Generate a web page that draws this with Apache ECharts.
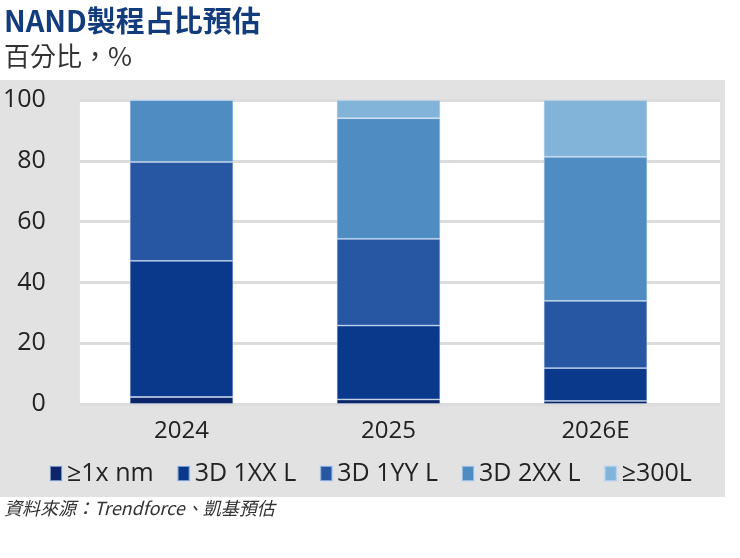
<!DOCTYPE html>
<html><head><meta charset="utf-8">
<script src="https://cdn.jsdelivr.net/npm/echarts@6/dist/echarts.min.js"></script>
<style>html,body{margin:0;padding:0;background:#fff}#c{width:740px;height:558px}</style>
</head><body><div id="c"></div>
<script>
const categories = ['2024', '2025', '2026E'];
const seriesNames = ['≥1x nm', '3D 1XX L', '3D 1YY L', '3D 2XX L', '≥300L'];
const s1x = [2.3, 1.5, 1];
const s1xx = [44.8, 24.3, 10.8];
const s1yy = [32.5, 28.5, 22.1];
const s2xx = [20.4, 39.7, 47.4];
const s300 = [0, 6, 18.7];
const yTicks = [0, 20, 40, 60, 80, 100];
const colors = ['#0b2568', '#0a388a', '#2756a2', '#4f8cc1', '#82b3d8'];

const values = [s1x, s1xx, s1yy, s2xx, s300];
const FONT = '"Open Sans", "Noto Sans", sans-serif';
const chart = echarts.init(document.getElementById('c'));
chart.setOption({
  animation: false,
  backgroundColor: '#fff',
  graphic: [
    { type: 'rect', shape: { x: 0, y: 80, width: 725, height: 417 }, style: { fill: '#e2e2e2' }, z: -10 },
    { type: 'text', left: 4, top: 6, style: { text: 'NAND製程占比預估', font: 'bold 29px "Noto Sans CJK TC", "Noto Sans"', fill: '#133c7d' } },
    { type: 'text', left: 4, top: 43, style: { text: '百分比，%', font: '26px "Noto Sans CJK TC", "Noto Sans"', fill: '#333' } },
    { type: 'text', left: 4, top: 499, style: { text: '資料來源：Trendforce、凱基預估', font: 'italic 18px "Noto Sans CJK TC", "Noto Sans"', fill: '#333' } }
  ],
  grid: [
    { left: 78, right: 20, top: 100, bottom: 154, show: true, backgroundColor: '#fff', borderWidth: 0 },
    { left: 78, right: 41, top: 100, bottom: 154 }
  ],
  legend: {
    data: seriesNames, top: 456, left: 44, itemWidth: 12, itemHeight: 15, itemGap: 23,
    icon: 'rect', textStyle: { fontSize: 25, color: '#222', fontFamily: FONT }
  },
  xAxis: [
    { type: 'category', gridIndex: 0, data: [''], show: false },
    {
      type: 'category', gridIndex: 1, data: categories,
      axisLine: { show: false }, axisTick: { show: false },
      axisLabel: { fontSize: 24, color: '#222', margin: 15, fontFamily: FONT }
    }
  ],
  yAxis: [
    {
      type: 'value', gridIndex: 0, min: 0, max: 100, interval: 20,
      axisLabel: { fontSize: 25, color: '#222', margin: 34, fontFamily: FONT,
        formatter: v => yTicks.includes(v) ? String(v) : '' },
      splitLine: { lineStyle: { color: '#dcdcdc', width: 3 } },
      axisLine: { show: false }, axisTick: { show: false }
    },
    { type: 'value', gridIndex: 1, min: 0, max: 100, interval: 20, show: false, splitLine: { show: false } }
  ],
  series: seriesNames.map((n, i) => ({
    name: n, type: 'bar', stack: 'a', data: values[i], barWidth: '50%',
    xAxisIndex: 1, yAxisIndex: 1,
    itemStyle: { color: colors[i], borderColor: 'rgba(200,220,245,0.6)', borderWidth: 0.8 }
  }))
});
</script></body></html>
